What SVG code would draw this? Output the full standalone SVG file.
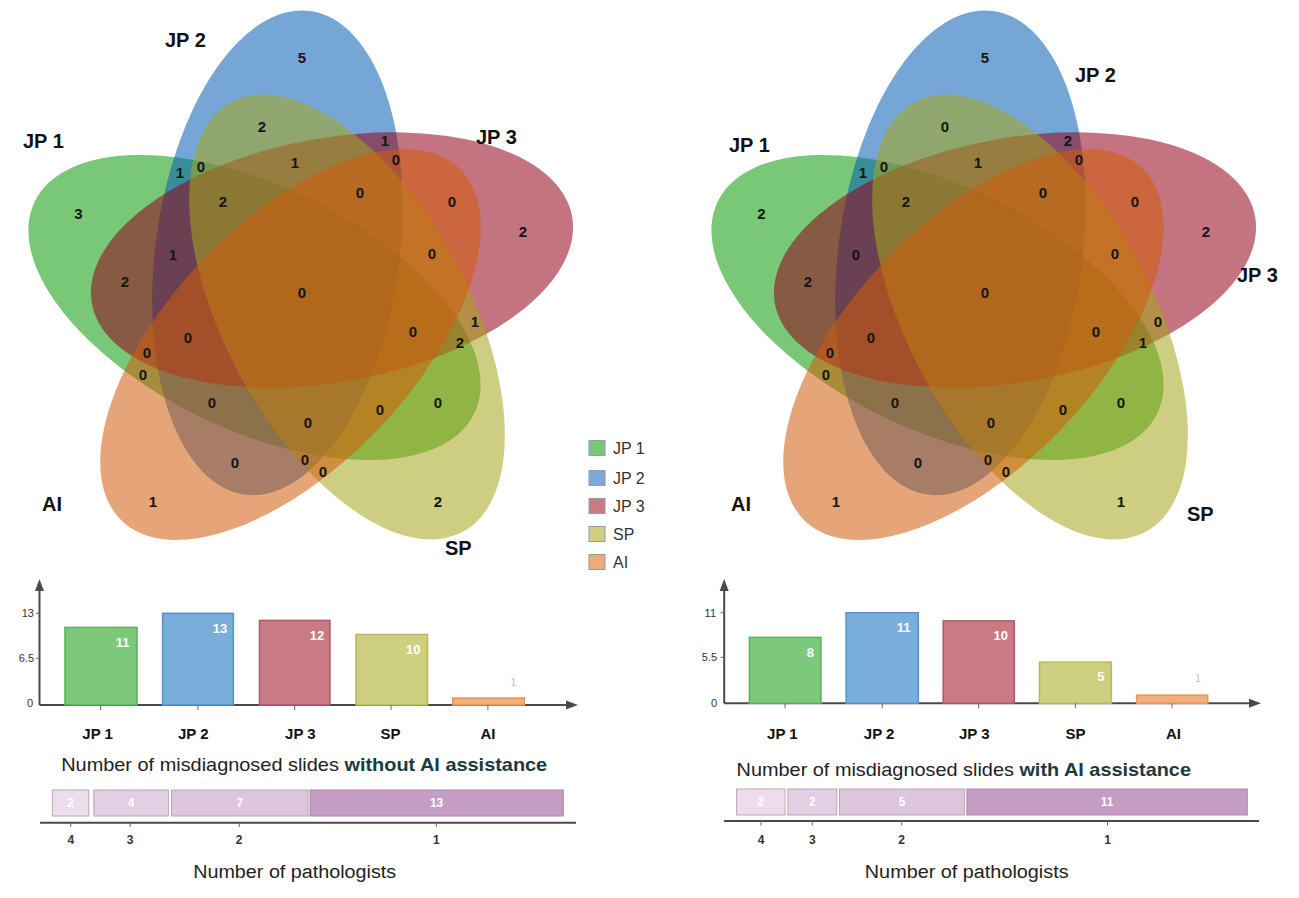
<svg xmlns="http://www.w3.org/2000/svg" width="1299" height="898" viewBox="0 0 1299 898">
<defs>
<style>
text{font-family:"Liberation Sans",Arial,sans-serif;}
.e{fill-opacity:.55;stroke:none}
.c1{fill:#099b09}.c2{fill:#065db5}.c3{fill:#940218}.c4{fill:#a6a61c}.c5{fill:#d15b0a}
.n{font-size:15px;font-weight:bold;fill:#151515;text-anchor:middle}
.sl{font-size:20px;font-weight:bold;fill:#111}
.lg{font-size:16px;fill:#333}
.lsq{stroke:#9a9a9a;stroke-width:1}
.ax{stroke:#4a4a4a;stroke-width:2;fill:none}
.tk{stroke:#666;stroke-width:1}
.yt{font-size:11px;fill:#333;text-anchor:end}
.xl{font-size:15px;font-weight:bold;fill:#111;text-anchor:middle}
.bl{font-size:13px;font-weight:bold;fill:#fff;text-anchor:middle}
.b1{fill:#7cc97c;stroke:#55b355;stroke-width:1.5}
.b2{fill:#7aaedb;stroke:#5592cc;stroke-width:1.5}
.b3{fill:#c97a83;stroke:#ad5a66;stroke-width:1.5}
.b4{fill:#cfcf80;stroke:#b8b85a;stroke-width:1.5}
.b5{fill:#f0b07c;stroke:#e3955a;stroke-width:1.5}
.ttl{font-size:18.5px;fill:#222}
.ttb{font-weight:bold;fill:#1b3a40}
.s1{fill:#ecdcec;stroke:#b8a8b8;stroke-width:1}
.s2{fill:#e3cfe3;stroke:#b8a8b8;stroke-width:1}
.s3{fill:#ddc6dd;stroke:#b8a8b8;stroke-width:1}
.s4{fill:#c49cc4;stroke:#a98aa9;stroke-width:1}
.sv{font-size:12px;font-weight:bold;fill:#fff;text-anchor:middle}
.pl{font-size:12px;font-weight:bold;fill:#333;text-anchor:middle}
.pt{font-size:18px;fill:#222;text-anchor:middle}
</style>
</defs>

<!-- LEFT VENN -->
<g id="venn-left">
<g id="L-JP1"><ellipse class="e c1" cx="254.5" cy="307.5" rx="244" ry="122" transform="rotate(25.7 254.5 307.5)"/></g>
<g id="L-JP2"><ellipse class="e c2" cx="277.4" cy="252.8" rx="244" ry="122" transform="rotate(97.7 277.4 252.8)"/></g>
<g id="L-JP3"><ellipse class="e c3" cx="332" cy="260" rx="244" ry="122" transform="rotate(-10.3 332 260)"/></g>
<g id="L-SP"><ellipse class="e c4" cx="347" cy="317" rx="244" ry="122" transform="rotate(61.7 347 317)"/></g>
<g id="L-AI"><ellipse class="e c5" cx="290.5" cy="344.5" rx="244" ry="122" transform="rotate(-46.3 290.5 344.5)"/></g>
</g>
<g id="venn-left-counts">
<text class="n" x="78.5" y="219.3">3</text>
<text class="n" x="302" y="63.3">5</text>
<text class="n" x="523" y="237.3">2</text>
<text class="n" x="438" y="507.3">2</text>
<text class="n" x="153" y="507.3">1</text>
<text class="n" x="262" y="132.3">2</text>
<text class="n" x="385" y="146.3">1</text>
<text class="n" x="396" y="165.3">0</text>
<text class="n" x="295" y="168.3">1</text>
<text class="n" x="180" y="178.3">1</text>
<text class="n" x="201" y="172.3">0</text>
<text class="n" x="360" y="198.3">0</text>
<text class="n" x="223" y="207.3">2</text>
<text class="n" x="452" y="207.3">0</text>
<text class="n" x="173" y="260.3">1</text>
<text class="n" x="432" y="259.3">0</text>
<text class="n" x="125" y="287.3">2</text>
<text class="n" x="302" y="298.3">0</text>
<text class="n" x="413" y="337.3">0</text>
<text class="n" x="475" y="327.3">1</text>
<text class="n" x="460" y="348.3">2</text>
<text class="n" x="188" y="343.3">0</text>
<text class="n" x="147" y="358.3">0</text>
<text class="n" x="143" y="380.3">0</text>
<text class="n" x="212" y="408.3">0</text>
<text class="n" x="308" y="428.3">0</text>
<text class="n" x="380" y="415.3">0</text>
<text class="n" x="438" y="408.3">0</text>
<text class="n" x="235" y="468.3">0</text>
<text class="n" x="305" y="465.3">0</text>
<text class="n" x="323" y="477.3">0</text>
</g>
<g id="venn-left-labels">
<text class="sl" x="23" y="148">JP 1</text>
<text class="sl" x="165" y="47">JP 2</text>
<text class="sl" x="476" y="144">JP 3</text>
<text class="sl" x="42" y="511">AI</text>
<text class="sl" x="445" y="555">SP</text>
</g>

<!-- LEGEND -->
<g id="legend">
<rect class="lsq" x="589" y="440.5" width="16" height="15" fill="#7bc87b"/>
<text class="lg" x="613" y="453.5">JP 1</text>
<rect class="lsq" x="589" y="470.5" width="16" height="15" fill="#7aaad8"/>
<text class="lg" x="613" y="483.5">JP 2</text>
<rect class="lsq" x="589" y="498.5" width="16" height="15" fill="#c97b85"/>
<text class="lg" x="613" y="511.5">JP 3</text>
<rect class="lsq" x="589" y="526.5" width="16" height="15" fill="#cfcf85"/>
<text class="lg" x="613" y="539.5">SP</text>
<rect class="lsq" x="589" y="554.5" width="16" height="15" fill="#eeaa7a"/>
<text class="lg" x="613" y="567.5">AI</text>
</g>

<!-- RIGHT VENN -->
<g id="venn-right" transform="translate(683,0)">
<g id="R-JP1"><ellipse class="e c1" cx="254.5" cy="307.5" rx="244" ry="122" transform="rotate(25.7 254.5 307.5)"/></g>
<g id="R-JP2"><ellipse class="e c2" cx="277.4" cy="252.8" rx="244" ry="122" transform="rotate(97.7 277.4 252.8)"/></g>
<g id="R-JP3"><ellipse class="e c3" cx="332" cy="260" rx="244" ry="122" transform="rotate(-10.3 332 260)"/></g>
<g id="R-SP"><ellipse class="e c4" cx="347" cy="317" rx="244" ry="122" transform="rotate(61.7 347 317)"/></g>
<g id="R-AI"><ellipse class="e c5" cx="290.5" cy="344.5" rx="244" ry="122" transform="rotate(-46.3 290.5 344.5)"/></g>
<g id="venn-right-counts">
<text class="n" x="78.5" y="219.3">2</text>
<text class="n" x="302" y="63.3">5</text>
<text class="n" x="523" y="237.3">2</text>
<text class="n" x="438" y="507.3">1</text>
<text class="n" x="153" y="507.3">1</text>
<text class="n" x="262" y="132.3">0</text>
<text class="n" x="385" y="146.3">2</text>
<text class="n" x="396" y="165.3">0</text>
<text class="n" x="295" y="168.3">1</text>
<text class="n" x="180" y="178.3">1</text>
<text class="n" x="201" y="172.3">0</text>
<text class="n" x="360" y="198.3">0</text>
<text class="n" x="223" y="207.3">2</text>
<text class="n" x="452" y="207.3">0</text>
<text class="n" x="173" y="260.3">0</text>
<text class="n" x="432" y="259.3">0</text>
<text class="n" x="125" y="287.3">2</text>
<text class="n" x="302" y="298.3">0</text>
<text class="n" x="413" y="337.3">0</text>
<text class="n" x="475" y="327.3">0</text>
<text class="n" x="460" y="348.3">1</text>
<text class="n" x="188" y="343.3">0</text>
<text class="n" x="147" y="358.3">0</text>
<text class="n" x="143" y="380.3">0</text>
<text class="n" x="212" y="408.3">0</text>
<text class="n" x="308" y="428.3">0</text>
<text class="n" x="380" y="415.3">0</text>
<text class="n" x="438" y="408.3">0</text>
<text class="n" x="235" y="468.3">0</text>
<text class="n" x="305" y="465.3">0</text>
<text class="n" x="323" y="477.3">0</text>
</g>
</g>
<g id="venn-right-labels">
<text class="sl" x="729" y="151.5">JP 1</text>
<text class="sl" x="1075" y="82">JP 2</text>
<text class="sl" x="1237" y="282">JP 3</text>
<text class="sl" x="731" y="510.5">AI</text>
<text class="sl" x="1187" y="521">SP</text>
</g>

<!-- LEFT BAR CHART -->
<g id="bars-left">
<g id="bl-axes">
<line class="ax" x1="39.5" y1="705" x2="39.5" y2="588"/>
<polygon points="39.5,579 35,591 44,591" fill="#4a4a4a"/>
<line class="ax" x1="39.5" y1="705" x2="567" y2="705"/>
<polygon points="578,705 566,700.5 566,709.5" fill="#4a4a4a"/>
<line class="tk" x1="36" y1="613.3" x2="39.5" y2="613.3"/>
<line class="tk" x1="36" y1="658.3" x2="39.5" y2="658.3"/>
<text class="yt" x="34" y="617.3">13</text>
<text class="yt" x="34" y="662.3">6.5</text>
<text class="yt" x="33" y="707.3">0</text>
</g>
<g id="bl-JP1"><rect class="b1" x="65" y="627.4" width="72" height="77.6"/><text class="bl" x="122.5" y="647.2">11</text></g>
<g id="bl-JP2"><rect class="b2" x="162.6" y="613.3" width="70.8" height="91.7"/><text class="bl" x="220" y="632.8">13</text></g>
<g id="bl-JP3"><rect class="b3" x="259.5" y="620.4" width="70.4" height="84.6"/><text class="bl" x="317" y="639.5">12</text></g>
<g id="bl-SP"><rect class="b4" x="356" y="634.5" width="71.5" height="70.5"/><text class="bl" x="413.3" y="653.8">10</text></g>
<g id="bl-AI"><rect class="b5" x="452.7" y="698" width="71.6" height="7"/><text x="513.6" y="685.5" font-size="11" fill="#d9b9a0" text-anchor="middle">1</text></g>
<g id="bl-ticks">
<line class="tk" x1="100.6" y1="705" x2="100.6" y2="710"/>
<line class="tk" x1="197.9" y1="705" x2="197.9" y2="710"/>
<line class="tk" x1="294.7" y1="705" x2="294.7" y2="710"/>
<line class="tk" x1="391.1" y1="705" x2="391.1" y2="710"/>
<line class="tk" x1="487.9" y1="705" x2="487.9" y2="710"/>
</g>
<text class="xl" x="97.6" y="738.5">JP 1</text>
<text class="xl" x="193.3" y="738.5">JP 2</text>
<text class="xl" x="300.4" y="738.5">JP 3</text>
<text class="xl" x="390.4" y="738.5">SP</text>
<text class="xl" x="488" y="738.5">AI</text>
<text class="ttl" x="61.2" y="771" textLength="486" lengthAdjust="spacingAndGlyphs">Number of misdiagnosed slides <tspan class="ttb">without AI assistance</tspan></text>
</g>
<g id="stack-left">
<rect class="s1" x="52.4" y="790" width="36.4" height="26"/>
<rect class="s2" x="93.8" y="790" width="74.6" height="26"/>
<rect class="s3" x="171.5" y="790" width="136.6" height="26"/>
<rect class="s4" x="310" y="790" width="253.3" height="26"/>
<text class="sv" x="70.6" y="807.3">2</text>
<text class="sv" x="131.1" y="807.3">4</text>
<text class="sv" x="239.8" y="807.3">7</text>
<text class="sv" x="436.6" y="807.3">13</text>
<line class="ax" x1="40" y1="822.7" x2="576" y2="822.7"/>
<line class="tk" x1="70.8" y1="822.7" x2="70.8" y2="827"/>
<line class="tk" x1="130.1" y1="822.7" x2="130.1" y2="827"/>
<line class="tk" x1="239.2" y1="822.7" x2="239.2" y2="827"/>
<line class="tk" x1="436.3" y1="822.7" x2="436.3" y2="827"/>
<text class="pl" x="70.8" y="844.3">4</text>
<text class="pl" x="130.1" y="844.3">3</text>
<text class="pl" x="239.2" y="844.3">2</text>
<text class="pl" x="436.3" y="844.3">1</text>
<text class="pt" x="294.7" y="877.5" textLength="203" lengthAdjust="spacingAndGlyphs">Number of pathologists</text>
</g>

<!-- RIGHT BAR CHART -->
<g id="bars-right">
<g id="br-axes">
<line class="ax" x1="724.2" y1="703.3" x2="724.2" y2="588"/>
<polygon points="724.2,579 719.7,591 728.7,591" fill="#4a4a4a"/>
<line class="ax" x1="724.2" y1="703.3" x2="1250" y2="703.3"/>
<polygon points="1261,703.3 1249,698.8 1249,707.8" fill="#4a4a4a"/>
<line class="tk" x1="720.5" y1="612.7" x2="724.2" y2="612.7"/>
<line class="tk" x1="720.5" y1="657.3" x2="724.2" y2="657.3"/>
<text class="yt" x="716" y="616.7">11</text>
<text class="yt" x="717" y="661.3">5.5</text>
<text class="yt" x="717" y="706.7">0</text>
</g>
<g id="br-JP1"><rect class="b1" x="749.4" y="637.4" width="71.5" height="65.9"/><text class="bl" x="810.4" y="657.2">8</text></g>
<g id="br-JP2"><rect class="b2" x="846.1" y="612.7" width="72.2" height="90.6"/><text class="bl" x="903.6" y="631.8">11</text></g>
<g id="br-JP3"><rect class="b3" x="943.2" y="620.9" width="71.1" height="82.4"/><text class="bl" x="1000.7" y="639.8">10</text></g>
<g id="br-SP"><rect class="b4" x="1039.5" y="662.1" width="71.9" height="41.2"/><text class="bl" x="1100.9" y="681.2">5</text></g>
<g id="br-AI"><rect class="b5" x="1136.6" y="695.1" width="71.1" height="8.2"/><text x="1198" y="682.1" font-size="11" fill="#d9b9a0" text-anchor="middle">1</text></g>
<g id="br-ticks">
<line class="tk" x1="785.1" y1="703.3" x2="785.1" y2="708.3"/>
<line class="tk" x1="882.2" y1="703.3" x2="882.2" y2="708.3"/>
<line class="tk" x1="978.7" y1="703.3" x2="978.7" y2="708.3"/>
<line class="tk" x1="1075.4" y1="703.3" x2="1075.4" y2="708.3"/>
<line class="tk" x1="1172.1" y1="703.3" x2="1172.1" y2="708.3"/>
</g>
<text class="xl" x="782.4" y="738.5">JP 1</text>
<text class="xl" x="879.1" y="738.5">JP 2</text>
<text class="xl" x="974.3" y="738.5">JP 3</text>
<text class="xl" x="1075.6" y="738.5">SP</text>
<text class="xl" x="1173.5" y="738.5">AI</text>
<text class="ttl" x="736.6" y="776" textLength="454.4" lengthAdjust="spacingAndGlyphs">Number of misdiagnosed slides <tspan class="ttb">with AI assistance</tspan></text>
</g>
<g id="stack-right">
<rect class="s1" x="736.6" y="789" width="48.5" height="26"/>
<rect class="s2" x="787.9" y="789" width="48.9" height="26"/>
<rect class="s3" x="839.5" y="789" width="125.1" height="26"/>
<rect class="s4" x="966.9" y="789" width="280.4" height="26"/>
<text class="sv" x="760.8" y="806.3">2</text>
<text class="sv" x="812.3" y="806.3">2</text>
<text class="sv" x="902" y="806.3">5</text>
<text class="sv" x="1107.1" y="806.3">11</text>
<line class="ax" x1="724" y1="821" x2="1259" y2="821"/>
<line class="tk" x1="761" y1="821" x2="761" y2="825.5"/>
<line class="tk" x1="812.3" y1="821" x2="812.3" y2="825.5"/>
<line class="tk" x1="901.7" y1="821" x2="901.7" y2="825.5"/>
<line class="tk" x1="1107.5" y1="821" x2="1107.5" y2="825.5"/>
<text class="pl" x="761" y="843.6">4</text>
<text class="pl" x="812.3" y="843.6">3</text>
<text class="pl" x="901.7" y="843.6">2</text>
<text class="pl" x="1107.5" y="843.6">1</text>
<text class="pt" x="966.7" y="877.5" textLength="203.8" lengthAdjust="spacingAndGlyphs">Number of pathologists</text>
</g>
</svg>
